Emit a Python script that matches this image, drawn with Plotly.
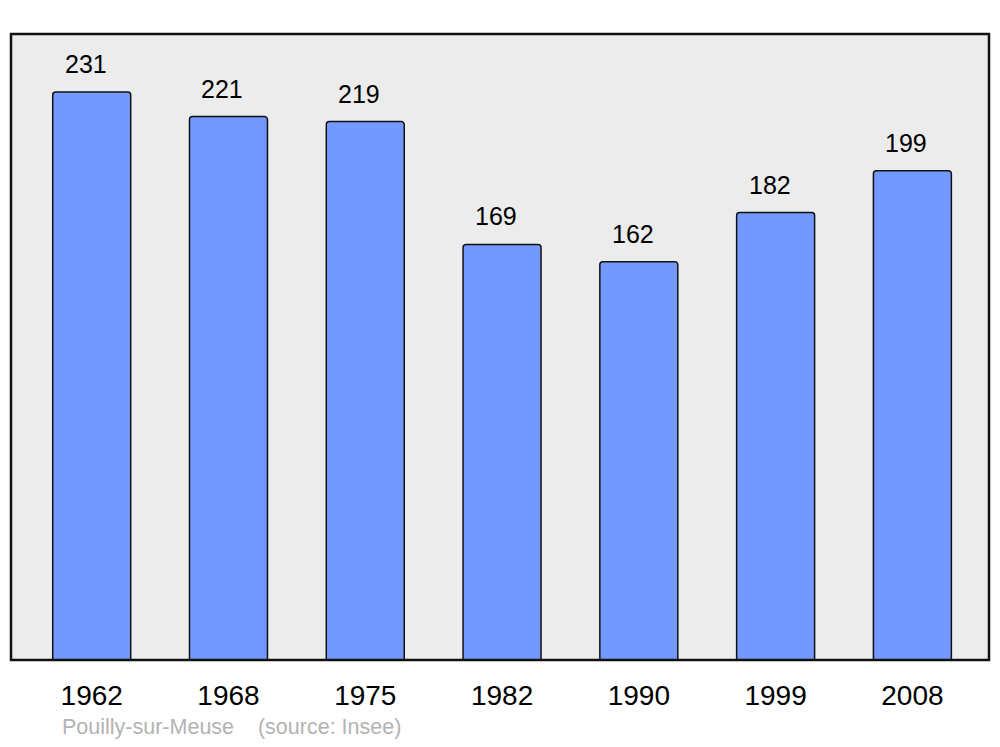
import plotly.graph_objects as go

years = ["1962", "1968", "1975", "1982", "1990", "1999", "2008"]
population = [231, 221, 219, 169, 162, 182, 199]
caption = "Pouilly-sur-Meuse    (source: Insee)"

fig = go.Figure()
fig.add_trace(
    go.Bar(
        x=years,
        y=population,
        width=0.57,
        marker={"color": "#7399ff", "line": {"color": "#111111", "width": 1.5}, "cornerradius": 3},
        hoverinfo="x+y",
    )
)

# value labels above each bar (index position on the category axis)
for i, value in enumerate(population):
    fig.add_annotation(
        x=i, y=value, text=str(value), showarrow=False,
        xshift=-6, yshift=28, font={"size": 25, "color": "#000000"},
    )

fig.add_annotation(
    xref="paper", yref="paper", x=0.05, y=-0.107,
    xanchor="left", yanchor="middle", showarrow=False,
    text=caption, font={"size": 21.5, "color": "#b3b3b3"},
)

fig.add_shape(
    type="rect", xref="paper", yref="paper", x0=0, x1=1, y0=0, y1=1,
    line={"color": "#111111", "width": 2.5}, layer="above",
)

fig.update_layout(
    width=984,
    height=731,
    margin={"l": 3, "r": 3, "t": 26, "b": 79},
    paper_bgcolor="#ffffff",
    plot_bgcolor="#ececec",
    showlegend=False,
    font={"family": "Liberation Sans, Arial, sans-serif", "color": "#000000"},
)
fig.update_xaxes(
    type="category", range=[-0.59, 6.56], showgrid=False, showline=False, zeroline=False,
    ticks="outside", ticklen=10, tickcolor="rgba(0,0,0,0)",
    tickfont={"size": 28},
)
fig.update_yaxes(range=[0, 254.6], showgrid=False, zeroline=False, showticklabels=False)

fig.write_html("out.html")
